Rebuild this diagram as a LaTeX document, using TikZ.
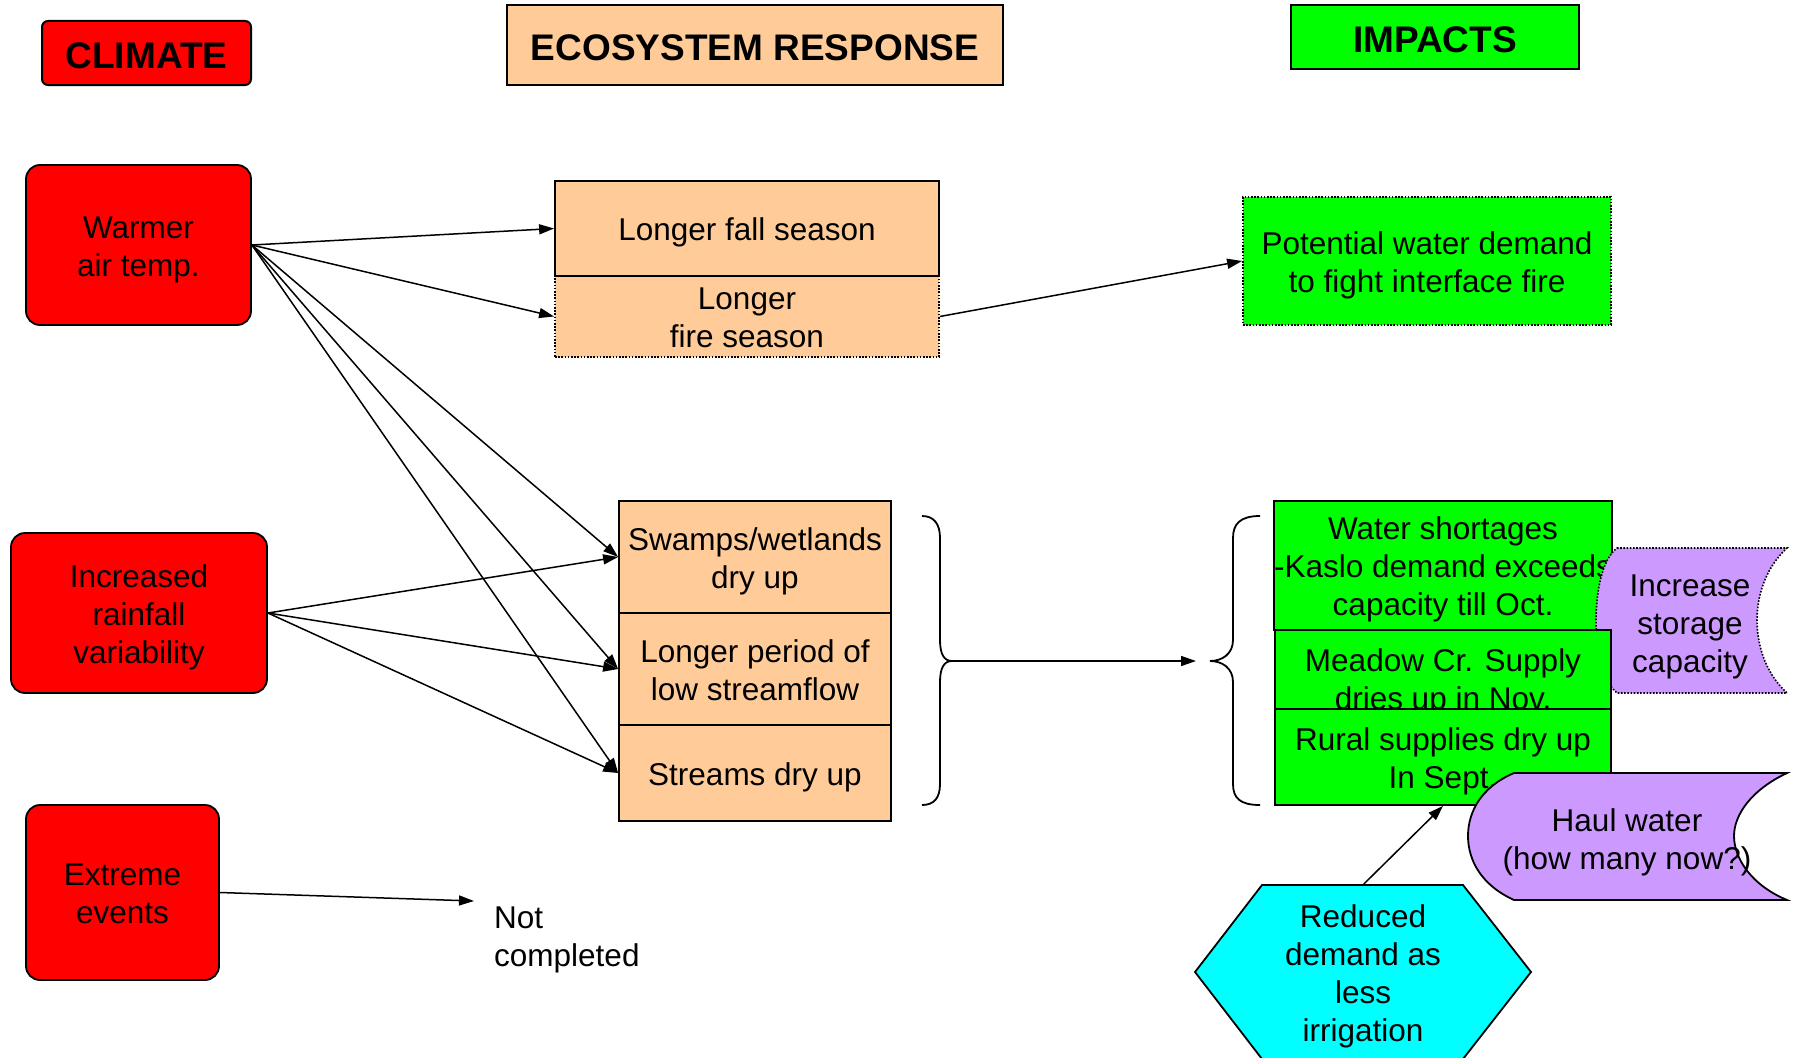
\documentclass[tikz,border=0pt]{standalone}
\usepackage{fontspec}
\setmainfont{Liberation Sans}
\usetikzlibrary{arrows.meta}
\definecolor{cred}{HTML}{FF0000}
\definecolor{cpeach}{HTML}{FFCC99}
\definecolor{cgreen}{HTML}{00FF00}
\definecolor{cpurple}{HTML}{CC99FF}
\definecolor{ccyan}{HTML}{00FFFF}
\newcommand\tstr{\rule{0pt}{31.5pt}}
\newcommand\bstr{\rule[-6.6pt]{0pt}{6.6pt}}
\newcommand\lowr[1]{\raisebox{-2.5pt}[\height][\depth]{#1}}
\tikzset{
  txt/.style={font=\fontsize{31.5}{38}\selectfont, align=center, inner sep=0pt},
  box/.style={txt, draw, line width=1.8pt},
  hdr/.style={draw, line width=2pt, inner sep=0pt, font=\fontsize{37}{44}\selectfont\bfseries},
  redbox/.style={box, fill=cred, rounded corners=14pt},
  peachbox/.style={box, fill=cpeach},
  greenbox/.style={box, fill=cgreen},
  dotborder/.style={dash pattern=on 1.6pt off 1.6pt},
  arr/.style={line width=1.5pt, -{Triangle[length=15pt,width=10pt]}},
  brace/.style={line width=1.8pt}
}
\begin{document}
\begin{tikzpicture}[x=1pt,y=-1pt]
\useasboundingbox (0,0) rectangle (1798,1057);
\fill[white] (0,0) rectangle (1798,1057);

% headers
\node[hdr, fill=cred, rounded corners=6pt, minimum width=209pt, minimum height=64pt] (hclim) at (146.5,53) {\lowr{CLIMATE}};
\node[hdr, fill=cpeach, minimum width=496pt, minimum height=80pt] (heco) at (755,45) {\lowr{ECOSYSTEM RESPONSE}};
\node[hdr, fill=cgreen, minimum width=288pt, minimum height=64pt] (himp) at (1435,37) {\lowr{IMPACTS}};

% climate boxes
\node[redbox, minimum width=225pt, minimum height=160pt] (warm) at (138.5,245) {\tstr Warmer\\air temp.\bstr};
\node[redbox, minimum width=256pt, minimum height=160pt] (rain) at (139,613) {\tstr Increased\\rainfall\\variability\bstr};
\node[redbox, minimum width=193pt, minimum height=175pt] (ext) at (122.5,892.5) {\tstr Extreme\\events\bstr};

% ecosystem boxes
\node[peachbox, dotborder, minimum width=384pt, minimum height=81pt] (fire) at (747,316.5) {\tstr Longer\\fire season\bstr};
\node[peachbox, minimum width=384pt, minimum height=95pt] (fall) at (747,228.5) {\tstr Longer fall season\bstr};
\node[peachbox, minimum width=272pt, minimum height=112pt] (swamp) at (755,557) {\tstr Swamps/wetlands\\dry up\bstr};
\node[peachbox, minimum width=272pt, minimum height=112pt] (period) at (755,669) {\tstr Longer period of\\low streamflow\bstr};
\node[peachbox, minimum width=272pt, minimum height=96pt] (streams) at (755,773) {\tstr Streams dry up\bstr};

% impacts
\node[greenbox, dotborder, minimum width=368pt, minimum height=128pt] (pot) at (1427,261) {\tstr Potential water demand\\to fight interface fire\bstr};
\node[greenbox, minimum width=336pt, minimum height=129pt] (water) at (1443,565.5) {\tstr Water shortages\\-Kaslo demand exceeds\\capacity till Oct.\bstr};

% increase storage capacity (purple)
\path[fill=cpurple, draw, line width=1.6pt, dotborder]
  (1617,548) -- (1787,548) .. controls (1763,570) and (1757,600) .. (1757,620)
  .. controls (1757,641) and (1763,671) .. (1787,693) -- (1617,693)
  .. controls (1601,680) and (1596,645) .. (1596,620)
  .. controls (1596,595) and (1601,560) .. (1617,548) -- cycle;
\node[txt] (incr) at (1690,622) {\tstr Increase\\storage\\capacity\bstr};

\node[greenbox, minimum width=336pt, minimum height=79pt] (meadow) at (1443,669.5) {};
\node[txt] (meadowtxt) at (1443,678) {\tstr Meadow Cr. Supply\\dries up in Nov.\bstr};
\node[greenbox, minimum width=336pt, minimum height=96pt] (rural) at (1443,757) {\tstr Rural supplies dry up\\In Sept.\bstr};

% haul water (purple)
\path[fill=cpurple, draw, line width=1.8pt]
  (1514,773) -- (1787,773) .. controls (1751,790) and (1734,815) .. (1734,836)
  .. controls (1734,858) and (1751,885) .. (1787,900) -- (1514,900)
  .. controls (1481,885) and (1468,860) .. (1468,836)
  .. controls (1468,812) and (1481,787) .. (1514,773) -- cycle;
\node[txt] (haul) at (1627,838) {\tstr Haul water\\(how many now?)\bstr};

% hexagon
\fill[ccyan, draw=black, line width=1.8pt] (1195,972) -- (1262,885) -- (1463,885) -- (1531,972) -- (1463,1059) -- (1262,1059) -- cycle;
\node[txt, minimum width=336pt, minimum height=174pt] (hex) at (1363,972) {\tstr Reduced\\demand as\\less\\irrigation\bstr};

% not completed
\node[txt, align=left, anchor=west] (notc) at (494,935) {\tstr Not\\completed\bstr};
\coordinate (notarr) at (474,901);

% braces
\draw[brace] (922,516) .. controls (934,516) and (940,524) .. (940,538) -- (940,640)
  .. controls (940,654) and (944,661) .. (952,661)
  .. controls (944,661) and (940,668) .. (940,682) -- (940,784)
  .. controls (940,798) and (934,805) .. (922,805);
\draw[brace] (1260,516) .. controls (1240,516) and (1233,524) .. (1233,538) -- (1233,640)
  .. controls (1233,654) and (1222,661) .. (1210,661)
  .. controls (1222,661) and (1233,668) .. (1233,682) -- (1233,784)
  .. controls (1233,798) and (1240,805) .. (1260,805);
\coordinate (lbtip) at (952,661);
\coordinate (rbin) at (1196,661);

% arrows
\draw[arr] (warm.east) -- (fall.west);
\draw[arr] (warm.east) -- (fire.west);
\draw[arr] (warm.east) -- (swamp.west);
\draw[arr] (warm.east) -- (period.west);
\draw[arr] (warm.east) -- (streams.west);
\draw[arr] (rain.east) -- (swamp.west);
\draw[arr] (rain.east) -- (period.west);
\draw[arr] (rain.east) -- (streams.west);
\draw[arr] (ext.east) -- (notarr);
\draw[arr] (fire.east) -- (pot.west);
\draw[arr] (lbtip) -- (rbin);
\draw[arr] (hex.north) -- (rural.south);
\end{tikzpicture}
\end{document}
